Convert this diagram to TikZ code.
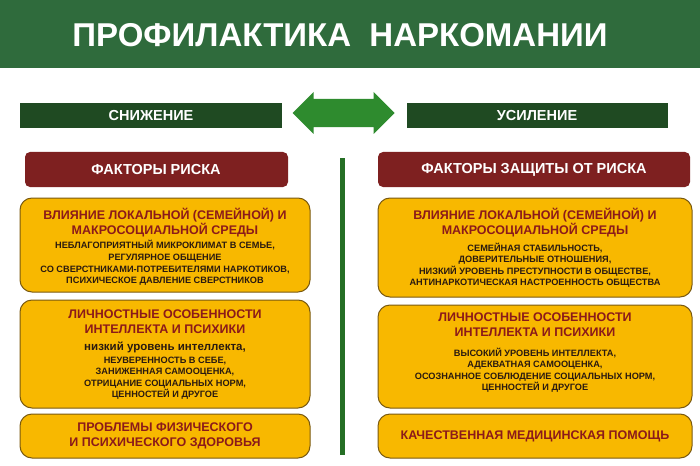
\documentclass[tikz,border=0pt]{standalone}
\usepackage{fontspec}
\setmainfont{Liberation Sans}
\usetikzlibrary{shapes.arrows}
\definecolor{bannergreen}{HTML}{2F6B3C}
\definecolor{darkgreen}{HTML}{1F4A22}
\definecolor{arrowgreen}{HTML}{2E8B2E}
\definecolor{riskred}{HTML}{7E2020}
\definecolor{boxorange}{HTML}{F8B800}
\definecolor{boxborder}{HTML}{7A5A10}
\definecolor{titlered}{HTML}{8B1A1A}
\definecolor{bodytext}{HTML}{2A1A10}
\tikzset{
  greenbar/.style={draw=none, fill=darkgreen},
  redhead/.style={draw=none, fill=riskred, rounded corners=5pt},
  orbox/.style={draw=boxborder, line width=1pt, fill=boxorange, rounded corners=12pt},
  headtxt/.style={text=white, font=\bfseries\fontsize{14.5}{16}\selectfont},
  ttl/.style={text=titlered, font=\bfseries\fontsize{12.5}{15}\selectfont, align=center},
  bod/.style={text=bodytext, font=\bfseries\fontsize{9.2}{11.5}\selectfont, align=center},
}
\begin{document}
\begin{tikzpicture}[x=1pt,y=-1pt]
\useasboundingbox (0,0) rectangle (700,465);
\fill[white] (0,0) rectangle (700,465);
\fill[bannergreen] (0,0) rectangle (700,68);
\node[text=white, font=\bfseries\fontsize{33}{36}\selectfont] (title) at (340,35) {ПРОФИЛАКТИКА\ \ НАРКОМАНИИ};

\path[greenbar] (20,103) rectangle (282,128);
\node[headtxt] (sn) at (151,115.5) {СНИЖЕНИЕ};
\path[greenbar] (407,103) rectangle (668,128);
\node[headtxt] (us) at (537,115.5) {УСИЛЕНИЕ};

\node[double arrow, fill=arrowgreen, minimum width=42pt, double arrow head extend=2pt, minimum height=102pt, inner sep=4pt] (arr) at (343.5,113) {};

\path[redhead] (25,152) rectangle (288,187);
\node[headtxt] (fr) at (156,169.5) {ФАКТОРЫ РИСКА};
\path[redhead] (378,152) rectangle (690,187);
\node[headtxt] (fz) at (534,169.5) {ФАКТОРЫ ЗАЩИТЫ ОТ РИСКА};

\coordinate (vt) at (342,158);
\coordinate (vb) at (342,455);
\draw[arrowgreen!80!black, line width=5pt] (vt) -- (vb);

\path[orbox] (20,198) rectangle (310,292);
\path[orbox] (20,300) rectangle (310,408);
\path[orbox] (20,414) rectangle (310,458);
\path[orbox] (378,198) rectangle (692,297);
\path[orbox] (378,305) rectangle (692,408);
\path[orbox] (378,414) rectangle (692,458);

\node[ttl] (l1t) at (165,223) {ВЛИЯНИЕ ЛОКАЛЬНОЙ (СЕМЕЙНОЙ) И\\МАКРОСОЦИАЛЬНОЙ СРЕДЫ};
\node[bod] (l1b) at (165,263) {НЕБЛАГОПРИЯТНЫЙ МИКРОКЛИМАТ В СЕМЬЕ,\\РЕГУЛЯРНОЕ ОБЩЕНИЕ\\СО СВЕРСТНИКАМИ-ПОТРЕБИТЕЛЯМИ НАРКОТИКОВ,\\ПСИХИЧЕСКОЕ ДАВЛЕНИЕ СВЕРСТНИКОВ};
\node[ttl] (l2t) at (165,322) {ЛИЧНОСТНЫЕ ОСОБЕННОСТИ\\ИНТЕЛЛЕКТА И ПСИХИКИ};
\node[text=bodytext, font=\bfseries\fontsize{11.5}{13}\selectfont] (l2a) at (165,347) {низкий уровень интеллекта,};
\node[bod] (l2b) at (165,378) {НЕУВЕРЕННОСТЬ В СЕБЕ,\\ЗАНИЖЕННАЯ САМООЦЕНКА,\\ОТРИЦАНИЕ СОЦИАЛЬНЫХ НОРМ,\\ЦЕННОСТЕЙ И ДРУГОЕ};
\node[ttl] (l3t) at (165,436) {ПРОБЛЕМЫ ФИЗИЧЕСКОГО\\И ПСИХИЧЕСКОГО ЗДОРОВЬЯ};

\node[ttl] (r1t) at (535,223) {ВЛИЯНИЕ ЛОКАЛЬНОЙ (СЕМЕЙНОЙ) И\\МАКРОСОЦИАЛЬНОЙ СРЕДЫ};
\node[bod] (r1b) at (535,265) {СЕМЕЙНАЯ СТАБИЛЬНОСТЬ,\\ДОВЕРИТЕЛЬНЫЕ ОТНОШЕНИЯ,\\НИЗКИЙ УРОВЕНЬ ПРЕСТУПНОСТИ В ОБЩЕСТВЕ,\\АНТИНАРКОТИЧЕСКАЯ НАСТРОЕННОСТЬ ОБЩЕСТВА};
\node[ttl] (r2t) at (535,325) {ЛИЧНОСТНЫЕ ОСОБЕННОСТИ\\ИНТЕЛЛЕКТА И ПСИХИКИ};
\node[bod] (r2b) at (535,370) {ВЫСОКИЙ УРОВЕНЬ ИНТЕЛЛЕКТА,\\АДЕКВАТНАЯ САМООЦЕНКА,\\ОСОЗНАННОЕ СОБЛЮДЕНИЕ СОЦИАЛЬНЫХ НОРМ,\\ЦЕННОСТЕЙ И ДРУГОЕ};
\node[ttl] (r3t) at (535,436) {КАЧЕСТВЕННАЯ МЕДИЦИНСКАЯ ПОМОЩЬ};
\end{tikzpicture}
\end{document}
